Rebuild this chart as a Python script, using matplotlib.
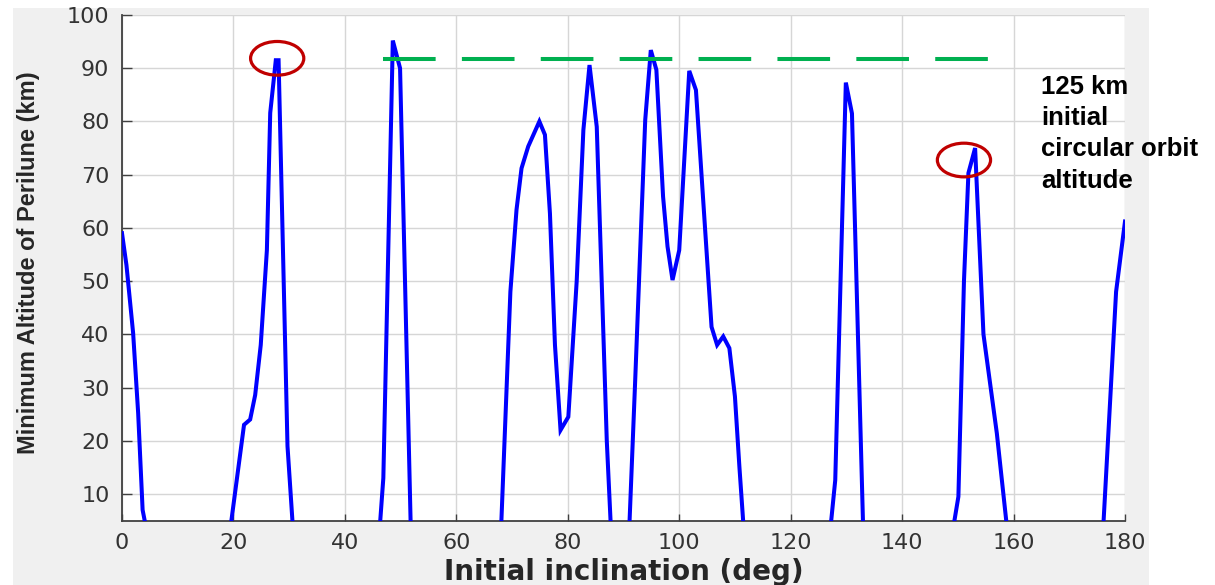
import matplotlib as mpl
mpl.use("Agg")
import matplotlib.pyplot as plt
from matplotlib.patches import Ellipse, Rectangle
import numpy as np

# inclination (deg) and min perilune altitude (km); values below the
# 5 km floor are clipped by the axis, 0 marks an impact in between windows
incl = [0, 0.8, 2.0, 2.9, 3.7, 5.0,
        19.0, 21.9, 23.0, 23.9, 24.9, 26.0, 26.6, 27.6, 28.1, 29.7, 30.9,
        46.0, 46.9, 48.6, 49.9, 51.9,
        67.9, 69.7, 70.8, 71.7, 72.9, 74.9, 75.9, 76.8, 77.7, 78.7, 80.1,
        81.6, 82.8, 83.9, 85.2, 87.0, 87.9,
        90.9, 92.1, 93.9, 94.9, 95.9, 97.1, 97.9, 98.8, 100.0, 101.8, 103.0,
        105.8, 106.8, 107.9, 109.0, 110.0, 110.8, 111.8,
        126.8, 128.0, 129.9, 131.0, 133.1,
        148.6, 150.1, 151.1, 151.9, 153.1, 154.6, 157.0, 159.2,
        175.9, 178.4, 180.0]
alt = [59, 53, 40.2, 25.2, 7, 0,
       0, 23, 24, 28.6, 38, 55.8, 81.6, 91.5, 91.5, 19, 0,
       0, 13, 95.2, 90, 0,
       0, 48, 63.4, 71.2, 75.3, 80, 77.5, 62.7, 38, 22, 24.5,
       50, 78.4, 90.6, 79, 20, 0,
       0, 31.4, 80.3, 93.4, 89.7, 65.9, 56.5, 50.2, 55.8, 89.5, 85.9,
       41.4, 38, 39.6, 37.4, 28.3, 15.1, 0,
       0, 12.6, 87.3, 81.5, 0,
       0, 9.5, 50, 70.3, 75, 40, 21.4, 0,
       0, 48, 61.2]

ref_alt = 91.8            # green dashed level
ref_span = (46.8, 155.9)
circles = [(27.85, 91.86), (151.1, 72.75)]   # red ellipse centres
note = "125 km\ninitial\ncircular orbit\naltitude"

W, H = 1215, 585
fig = plt.figure(figsize=(W / 100, H / 100), dpi=100, facecolor="white")
fig.patches.append(Rectangle((13 / W, 0), (1149 - 13) / W, 1 - 8 / H,
                             transform=fig.transFigure, facecolor="#f0f0f0",
                             edgecolor="none", zorder=-10))
ax = fig.add_axes([122 / W, 1 - 520.6 / H, (1125 - 122) / W, (520.6 - 15) / H])
ax.set_facecolor("white")

ax.plot(incl, alt, color="#0000ff", lw=2.9, solid_joinstyle="miter", zorder=3)
lw_g = 2.9
ax.plot(ref_span, [ref_alt, ref_alt], color="#00b050", lw=lw_g,
        dashes=(37.9 / lw_g, 18.9 / lw_g), zorder=4)
for cx, cy in circles:
    ax.add_patch(Ellipse((cx, cy), 9.55, 6.33, fill=False, edgecolor="#c00000",
                         lw=2.3, zorder=5))

ax.set_xlim(0, 180); ax.set_ylim(5, 100)
ax.set_xticks(np.arange(0, 181, 20)); ax.set_yticks(np.arange(10, 101, 10))
ax.grid(True, color="#d6d6d6", lw=1.0)
ax.set_axisbelow(True)
for s in ("top", "right"):
    ax.spines[s].set_visible(False)
for s in ("left", "bottom"):
    ax.spines[s].set_color("#404040"); ax.spines[s].set_linewidth(1.3)
ax.tick_params(direction="in", width=1, color="#404040", labelcolor="#333333",
               labelsize=16)
ax.tick_params(axis="x", length=5, pad=9)
ax.tick_params(axis="y", length=7.5, pad=9)

ax.set_xlabel("Initial inclination (deg)", fontsize=20, fontweight="bold",
              color="#262626", va="center")
ax.xaxis.set_label_coords(0.5, -0.101)
ax.set_ylabel("Minimum Altitude of Perilune (km)", family="Liberation Sans",
              fontsize=17, fontweight="bold", color="#262626", va="center")
ax.yaxis.set_label_coords(-0.0937, 0.51)

fig.text(1041 / W, 1 - 75 / H, note, family="Liberation Sans", fontsize=18.5,
         fontweight="bold", color="black", va="top", ha="left", linespacing=1.38)

fig.savefig("out.png", dpi=100, facecolor=fig.get_facecolor())
